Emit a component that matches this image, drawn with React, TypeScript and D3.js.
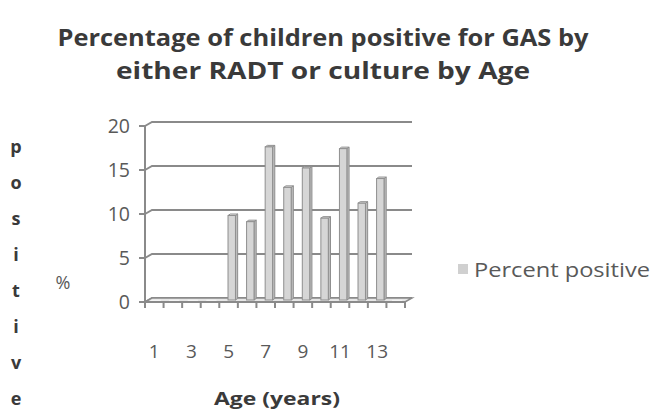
import React from "react";
import * as d3 from "d3";

const ages = [1, 2, 3, 4, 5, 6, 7, 8, 9, 10, 11, 12, 13, 14];
const percentPositive = [0, 0, 0, 0, 9.6, 8.9, 17.4, 12.8, 15.0, 9.3, 17.2, 11.0, 13.8, 0];
const yTicks = [0, 5, 10, 15, 20];
const xLabelAges = [1, 3, 5, 7, 9, 11, 13];
const titleLines = ["Percentage of children positive for GAS by", "either RADT or culture by Age"];
const sideLetters = ["p", "o", "s", "i", "t", "i", "v", "e"];
const seriesName = "Percent positive";

export default function App() {
  const W = 654, H = 410;
  const left = 145, right = 405, top = 126, bottom = 302;
  const dx = 7, dy = -4;
  const x = d3.scaleBand<number>().domain(ages).range([left, right]).padding(0);
  const y = d3.scaleLinear().domain([0, 20]).range([bottom, top]);
  const grid = "#8a8a8a";
  const txt = "#595959";
  const font = "'Open Sans', Lato, sans-serif";
  const bw = x.bandwidth();
  const boundaries = d3.range(ages.length + 1).map((i) => left + i * bw);
  const titleWidths = [531, 414];
  const letterY = d3.scalePoint<number>().domain(d3.range(sideLetters.length)).range([147, 399]);

  return (
    <svg width={W} height={H} style={{ position: "absolute", left: 0, top: 0 }} fontFamily={font}>
      <rect width={W} height={H} fill="#fff" />
      {titleLines.map((t, i) => (
        <text key={i} x={323} y={46 + i * 33} textAnchor="middle" fontSize={23} fontWeight={700} fill="#3a3a3a"
          textLength={titleWidths[i]} lengthAdjust="spacingAndGlyphs">
          {t}
        </text>
      ))}
      {/* back wall gridlines */}
      {yTicks.map((v) => (
        <g key={v}>
          <path
            d={`M${left},${y(v)} L${left + dx},${y(v) + dy} L${right + dx},${y(v) + dy}`}
            fill="none"
            stroke={grid}
            strokeWidth={2}
          />
          <line x1={left - 6} x2={left} y1={y(v)} y2={y(v)} stroke={grid} strokeWidth={2} />
          <text x={130} y={y(v) + 7} textAnchor="end" fontSize={19.5} fill={txt}>
            {v}
          </text>
        </g>
      ))}
      {/* floor */}
      <path
        d={`M${left},${bottom} L${left + dx},${bottom + dy} L${right + dx},${bottom + dy} L${right},${bottom} Z`}
        fill="#e6e6e6"
        stroke={grid}
        strokeWidth={1.5}
      />
      {/* zero bars flat */}
      {ages.map((a, i) =>
        percentPositive[i] === 0 ? (
          <rect key={a} x={(x(a) as number) + bw * 0.3} y={bottom - 2.2} width={bw * 0.55} height={1.4} fill="#f4f4f4" />
        ) : null
      )}
      {/* bars */}
      {ages.map((a, i) => {
        const v = percentPositive[i];
        if (v === 0) return null;
        const fx = (x(a) as number) + bw * 0.47;
        const fw = bw * 0.4;
        const sdx = 2.2, sdy = -1.5;
        const ty = y(v) - 2;
        const by = bottom - 2;
        return (
          <g key={a} stroke="#8f8f8f" strokeWidth={1}>
            <path d={`M${fx + fw},${by} L${fx + fw + sdx},${by + sdy} L${fx + fw + sdx},${ty + sdy} L${fx + fw},${ty} Z`} fill="#bdbdbd" />
            <path d={`M${fx},${ty} L${fx + sdx},${ty + sdy} L${fx + fw + sdx},${ty + sdy} L${fx + fw},${ty} Z`} fill="#e8e8e8" />
            <rect x={fx} y={ty} width={fw} height={by - ty} fill="#d6d6d6" />
          </g>
        );
      })}
      {/* front axis */}
      <line x1={left} x2={left} y1={top} y2={bottom} stroke={grid} strokeWidth={2} />
      <line x1={left - 6} x2={right} y1={bottom} y2={bottom} stroke={grid} strokeWidth={2} />
      {boundaries.map((bx, i) => (
        <line key={i} x1={bx} x2={bx} y1={bottom} y2={bottom + 6} stroke={grid} strokeWidth={2} />
      ))}
      {xLabelAges.map((a) => (
        <text key={a} x={(x(a) as number) + bw / 2} y={358} textAnchor="middle" fontSize={19} fill={txt}>
          {a}
        </text>
      ))}
      <text x={277} y={405} textAnchor="middle" fontSize={18} fontWeight={700} fill="#3a3a3a"
        textLength={126} lengthAdjust="spacingAndGlyphs">
        Age  (years)
      </text>
      <text x={63} y={289} textAnchor="middle" fontSize={18} fill={txt}>%</text>
      {sideLetters.map((c, i) => (
        <text key={i} x={16} y={(letterY(i) as number) + 6} textAnchor="middle" fontSize={18} fontWeight={700} fill="#3a3a3a">
          {c}
        </text>
      ))}
      {/* legend */}
      <rect x={458} y={264} width={10} height={10} fill="#d0d0d0" />
      <text x={474} y={277} fontSize={19.5} fill={txt} textLength={176} lengthAdjust="spacingAndGlyphs">{seriesName}</text>
    </svg>
  );
}
